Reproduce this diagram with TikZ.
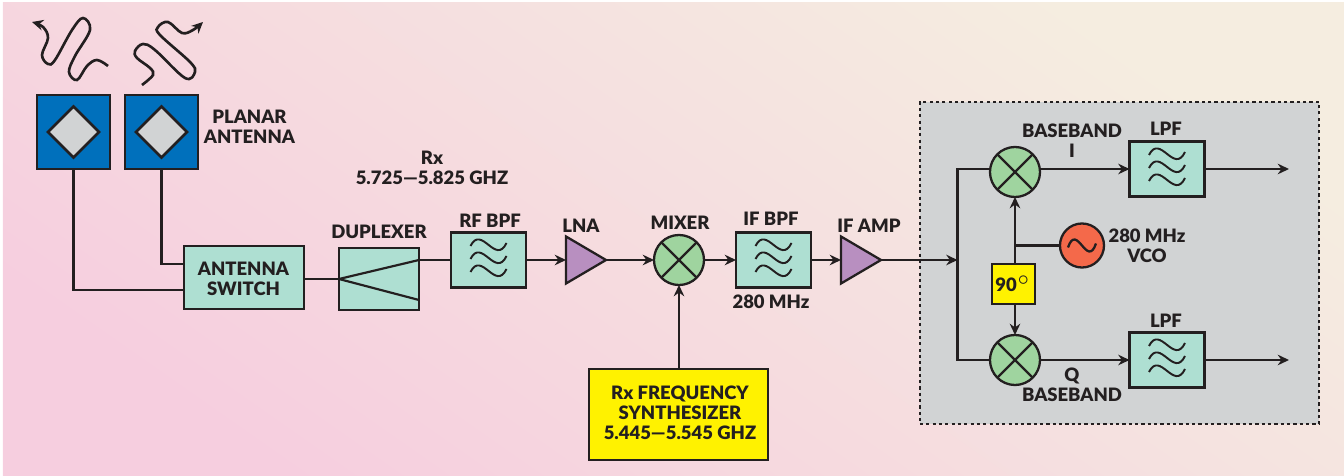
\documentclass[tikz,border=0pt]{standalone}
\usepackage{fontspec}
\setmainfont{Lato}[BoldFont={Lato Black}]
\usepackage{tikz}
\usetikzlibrary{arrows.meta,shapes.geometric}
\definecolor{bgpink}{HTML}{F6CEDF}
\definecolor{bgmid}{HTML}{F8DAE1}
\definecolor{bgcream}{HTML}{F5EDE0}
\definecolor{inkc}{HTML}{231F20}
\definecolor{antblue}{HTML}{0070BC}
\definecolor{panelgray}{HTML}{D1D3D4}
\definecolor{filtteal}{HTML}{AEDFD2}
\definecolor{mixgreen}{HTML}{9FD49F}
\definecolor{amppurple}{HTML}{B88FC0}
\definecolor{synyellow}{HTML}{FFF200}
\definecolor{vcored}{HTML}{F4694A}
\tikzset{
  wire/.style={draw=inkc,line width=0.62pt},
  feed/.style={wire,-{Stealth[length=3.2pt,width=3pt]}},
  txt/.style={text=inkc,font=\fontsize{5.25}{5.7}\selectfont\bfseries,align=center,inner sep=0pt},
  antbox/.style={draw=inkc,line width=0.75pt,fill=antblue,minimum width=0.73cm,minimum height=0.74cm,outer sep=0pt},
  patch/.style={draw=inkc,line width=0.75pt,fill=panelgray,shape=diamond,minimum width=0.52cm,minimum height=0.52cm,inner sep=0pt},
  tealbox/.style={draw=inkc,line width=0.65pt,fill=filtteal,outer sep=0pt,inner sep=0pt},
  filt/.style={tealbox,minimum width=0.75cm,minimum height=0.55cm,path picture={
    \foreach \d in {-15,-2,11}
      \draw[inkc,line width=0.55pt,shift={(path picture bounding box.center)}]
        (-18,\d+1) .. controls (-7,\d-21) and (7,\d+21) .. (18,\d-2);}},
  mixr/.style={draw=inkc,line width=0.65pt,fill=mixgreen,shape=circle,minimum size=0.5cm,inner sep=0pt,outer sep=0pt,path picture={
    \draw[inkc,line width=0.65pt] (path picture bounding box.north west) -- (path picture bounding box.south east)
      (path picture bounding box.north east) -- (path picture bounding box.south west);}},
  ampbox/.style={minimum width=0.40cm,minimum height=0.47cm,inner sep=0pt,outer sep=0pt},
  ampfill/.style={draw=inkc,line width=0.65pt,fill=amppurple,line join=miter},
  ylwbox/.style={draw=inkc,line width=0.65pt,fill=synyellow,outer sep=0pt,inner sep=0pt}
}
\begin{document}
\begin{tikzpicture}[x=0.01cm,y=-0.01cm]
\useasboundingbox (0,0) rectangle (1344,476);
\shade[left color=bgpink,middle color=bgmid,right color=bgcream,shading angle=145] (3,3) rectangle (1344,476);
% grey panel
\node[draw=inkc,line width=0.7pt,dash pattern=on 0.9pt off 0.9pt,fill=panelgray,minimum width=3.99cm,minimum height=3.22cm,outer sep=0pt] (panel) at (1119.5,263) {};
% antennas
\node[antbox] (ant1) at (73.5,132) {};
\node[antbox] (ant2) at (161.5,132) {};
\node[patch] (patch1) at (ant1.center) {};
\node[patch] (patch2) at (ant2.center) {};
\node[txt] (planar) at (249.5,127) {PLANAR\\ANTENNA};
% receive chain
\node[tealbox,minimum width=1.2cm,minimum height=0.63cm] (sw) at (244,277.5) {};
\node[txt] (swtxt) at (243.5,279) {ANTENNA\\SWITCH};
\node[tealbox,minimum width=0.80cm,minimum height=0.62cm] (dup) at (379,279) {};
\node[filt] (rfbpf) at (488.5,260) {};
\node[ampbox] (lna) at (586,260) {};
\draw[ampfill] (lna.north west) -- (lna.east) -- (lna.south west) -- cycle;
\node[mixr] (mix) at (679,260) {};
\node[filt] (ifbpf) at (773.5,260) {};
\node[ampbox] (ifamp) at (861,260) {};
\draw[ampfill] (ifamp.north west) -- (ifamp.east) -- (ifamp.south west) -- cycle;
\node[ylwbox,minimum width=1.79cm,minimum height=0.91cm] (syn) at (678.5,414.5) {};
\node[txt] (syntxt) at (680,413) {Rx FREQUENCY\\SYNTHESIZER\\5.445---5.545 GHZ};
% IQ section
\node[mixr] (mixi) at (1015,172) {};
\node[mixr] (mixq) at (1015,360) {};
\node[filt] (lpfi) at (1167,169) {};
\node[filt] (lpfq) at (1167,360) {};
\node[draw=inkc,line width=0.65pt,fill=vcored,shape=circle,minimum size=0.44cm,inner sep=0pt,outer sep=0pt,path picture={
  \draw[inkc,line width=0.65pt,shift={(path picture bounding box.center)}] (-14,2) .. controls (-5,-24) and (5,24) .. (14,-2);}] (vco) at (1082,245.5) {};
\node[ylwbox,minimum width=0.43cm,minimum height=0.40cm] (shift) at (1013.5,284) {};
\node[txt] (shifttxt) at (shift.center) {90$^{\circ}$};
% labels
\node[txt] (rxtxt) at (432,168) {Rx\\5.725---5.825 GHZ};
\node[txt] (duptxt) at (379,232) {DUPLEXER};
\node[txt] (rftxt) at (490,221) {RF BPF};
\node[txt] (lnatxt) at (581,226) {LNA};
\node[txt] (mixtxt) at (680,223) {MIXER};
\node[txt] (iftxt) at (771,219) {IF BPF};
\node[txt] (iffreq) at (771,302) {280 MHz};
\node[txt] (amptxt) at (869,226) {IF AMP};
\node[txt] (bbi) at (1072,141) {BASEBAND\\I};
\node[txt] (bbq) at (1072,385) {Q\\BASEBAND};
\node[txt] (lpfitxt) at (1166,129) {LPF};
\node[txt] (lpfqtxt) at (1166,321) {LPF};
\node[txt] (vcotxt) at (1147,246) {280 MHz\\VCO};
% radiated waves
\draw[feed,line width=0.75pt] plot[smooth,tension=0.6] coordinates {(108,66) (97,60) (87,66) (77,80) (69,72) (75,56) (90,30) (83,18) (72,30) (55,60) (48,64) (42,55) (48,38) (43,27) (32,22)};
\draw[feed,line width=0.75pt] plot[smooth,tension=0.6] coordinates {(142,85) (153,75) (150,68) (137,58) (135,51) (143,44) (155,50) (185,78) (195,72) (190,62) (160,35) (158,27) (168,22) (182,33) (193,30) (203,22)};
% connectors
\coordinate (swa) at (184,264);
\coordinate (swb) at (184,290);
\coordinate (dupout) at (419,260);
\coordinate (dupalt) at (419,300);
\coordinate (vtap) at (1015,245.5);
\coordinate (trunk) at (957.5,260);
\coordinate (outi) at (1289,169);
\coordinate (outq) at (1289,360);
\draw[wire] (ant1.south) |- (swb);
\draw[wire] (ant2.south) |- (swa);
\draw[wire] (sw.east |- dup.west) -- (dup.west);
\draw[wire] (dupout) -- (dup.west) -- (dupalt);
\draw[wire] (dupout) -- (rfbpf.west);
\draw[feed] (rfbpf.east) -- (lna.west);
\draw[feed] (lna.east) -- (mix.west);
\draw[feed] (mix.east) -- (ifbpf.west);
\draw[feed] (ifbpf.east) -- (ifamp.west);
\draw[feed] (ifamp.east) -- (trunk);
\draw[feed] (syn.north -| mix.south) -- (mix.south);
\draw[wire] (mixi.west |- lpfi.west) -| (trunk) |- (mixq.west);
\draw[feed] (mixi.east |- lpfi.west) -- (lpfi.west);
\draw[feed] (mixq.east) -- (lpfq.west);
\draw[feed] (lpfi.east) -- (outi);
\draw[feed] (lpfq.east) -- (outq);
\draw[feed] (shift.north -| mixi.south) -- (mixi.south);
\draw[feed] (shift.south -| mixq.north) -- (mixq.north);
\draw[wire] (vco.west) -- (vtap);
\end{tikzpicture}
\end{document}
